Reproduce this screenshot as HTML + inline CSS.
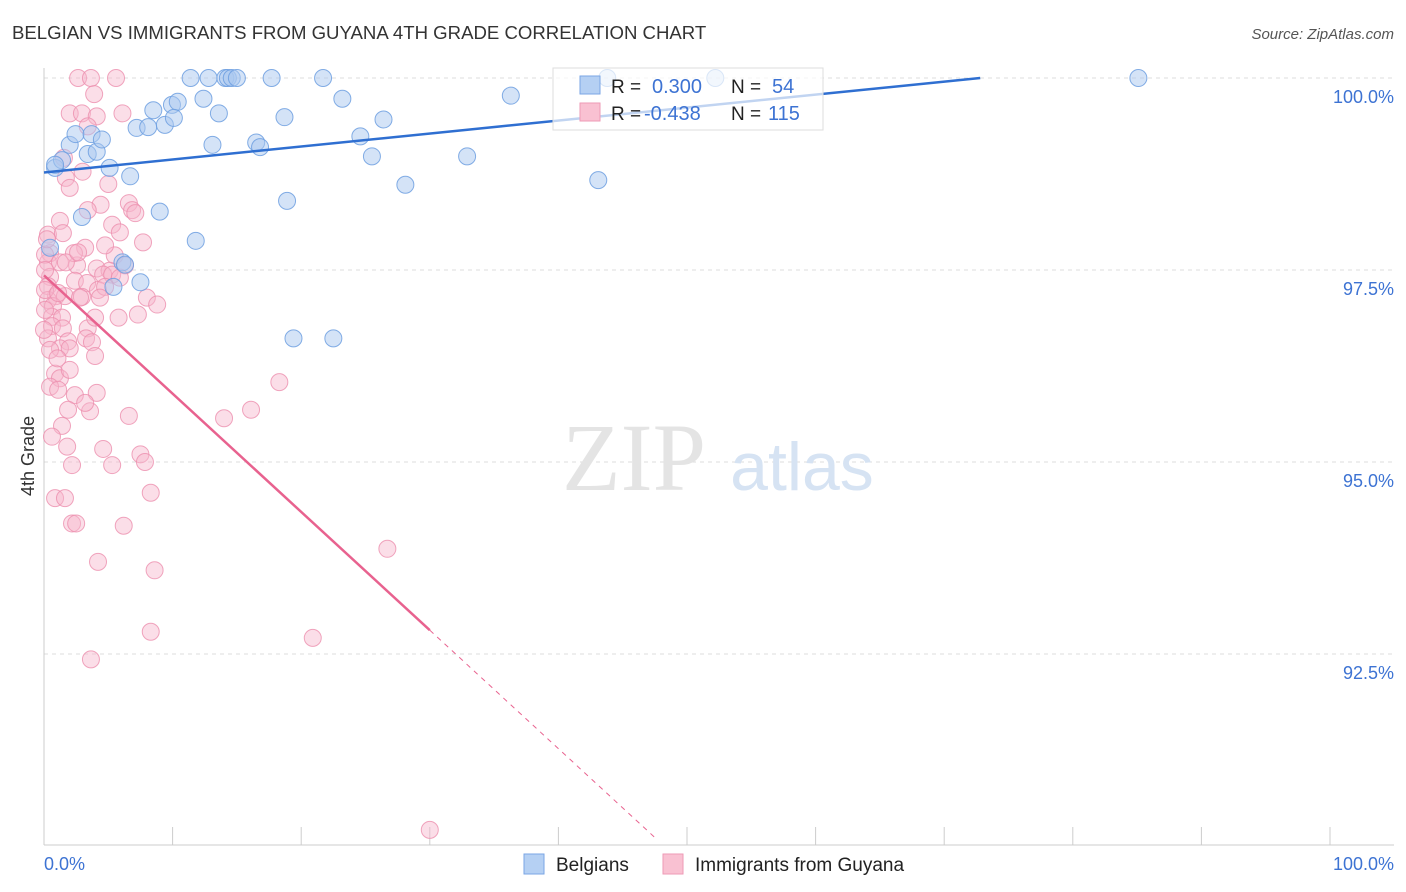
<!DOCTYPE html>
<html><head><meta charset="utf-8"><style>
body{margin:0;background:#fff;font-family:"Liberation Sans",sans-serif;}
svg{display:block}
</style></head><body>
<svg id="chart" width="1406" height="892">
<text x="12" y="39" font-size="18.6" fill="#333">BELGIAN VS IMMIGRANTS FROM GUYANA 4TH GRADE CORRELATION CHART</text>
<text x="1394" y="39" font-size="15" fill="#555" font-style="italic" text-anchor="end">Source: ZipAtlas.com</text>
<g id="grid"></g>
<text x="634" y="490" font-size="96" fill="#e4e4e4" font-family="Liberation Serif,serif" text-anchor="middle">ZIP</text>
<text x="802" y="490" font-size="68" fill="#d6e3f3" text-anchor="middle">atlas</text>
<g id="points"></g>
<g id="lines"></g>
<text transform="translate(34,456) rotate(-90)" font-size="18" fill="#333" text-anchor="middle">4th Grade</text>
<text x="44" y="870" font-size="18" fill="#3d73d3">0.0%</text>
<text x="1394" y="870" font-size="18" fill="#3d73d3" text-anchor="end">100.0%</text>
<g>
<rect x="553" y="68" width="270" height="62" fill="#fff" fill-opacity="0.7" stroke="#ddd"/>
<rect x="580" y="76" width="20" height="18" fill="#b5d0f3" stroke="#7aa6e4"/>
<rect x="580" y="103" width="20" height="18" fill="#f9c1d2" stroke="#ee9ab6"/>
<text x="611" y="93" font-size="19" fill="#222">R = </text><text x="652" y="93" font-size="20" fill="#3d73d3">0.300</text>
<text x="731" y="93" font-size="19" fill="#222">N = </text><text x="772" y="93" font-size="20" fill="#3d73d3">54</text>
<text x="611" y="120" font-size="19" fill="#222">R = </text><text x="644" y="120" font-size="20" fill="#3d73d3">-0.438</text>
<text x="731" y="120" font-size="19" fill="#222">N = </text><text x="768" y="120" font-size="20" fill="#3d73d3">115</text>
</g>
<g>
<rect x="524" y="854" width="20" height="20" fill="#b5d0f3" stroke="#7aa6e4"/>
<text x="556" y="871" font-size="19" fill="#222">Belgians</text>
<rect x="663" y="854" width="20" height="20" fill="#f9c1d2" stroke="#ee9ab6"/>
<text x="695" y="871" font-size="19" fill="#222">Immigrants from Guyana</text>
</g>
</svg>
<script>
const yTicks=[100,97.5,95,92.5];
const yTickLabels=["100.0%","97.5%","95.0%","92.5%"];
const blueX=[0.86,1.4,2,2.45,3.4,3.7,4.1,4.5,5.1,6.7,2.95,7.2,8.1,8.5,9.4,9.95,10.4,10.1,9,11.4,12.4,12.8,13.1,13.6,14.1,14.3,14.6,15,11.8,16.5,16.8,17.7,18.7,18.9,19.4,21.7,22.5,23.2,24.6,25.5,26.4,28.1,32.9,36.3,43.1,43.8,52.2,85.1,6.1,6.3,5.4,7.5,0.47,0.86];
const blueY=[98.83,98.93,99.13,99.27,99.01,99.27,99.04,99.2,98.83,98.72,98.19,99.35,99.36,99.58,99.39,99.65,99.69,99.48,98.26,100,99.73,100,99.13,99.54,100,100,100,100,97.88,99.16,99.1,100,99.49,98.4,96.61,100,96.61,99.73,99.24,98.98,99.46,98.61,98.98,99.77,98.67,100,100,100,97.6,97.57,97.28,97.34,97.79,98.87];
const pinkX=[2.65,3.65,5.6,3.9,2,2.95,4.1,6.1,3.4,1.55,3,1.7,2,5,4.4,6.6,6.85,3.4,5.3,1.24,0.31,1.47,3.2,7.7,0.47,5.5,0.31,2.57,4.1,6.3,5.1,0.47,2.4,3.35,4.6,5.3,0.31,0.93,1.63,2.95,4.2,4.75,8,8.8,0.31,0.7,0.62,1.4,5.8,7.3,0.62,1.47,3.4,0.31,1.87,3.27,3.73,1.24,2,3.97,0.86,1.24,0.47,1.1,4.1,2.4,1.87,3.58,6.6,14,16.1,18.3,1.4,1.8,4.6,7.5,2.18,5.3,7.85,0.86,1.63,8.3,2.18,2.5,6.2,4.2,8.6,26.7,8.3,20.9,3.65,30,2.33,4.35,0.08,0.08,0.08,0.08,0,0.47,1.24,2.8,5.9,3.97,1.05,2,3.2,0.62,1.7,2.65,5.9,4.75,7.1,1.1,0.23];
const pinkY=[100,100,100,99.79,99.54,99.54,99.5,99.54,99.37,98.96,98.78,98.7,98.57,98.62,98.35,98.37,98.28,98.28,98.09,98.14,97.96,97.98,97.79,97.86,97.72,97.69,97.6,97.56,97.52,97.56,97.49,97.41,97.36,97.33,97.44,97.44,97.29,97.16,97.16,97.15,97.24,97.28,97.14,97.05,97.11,97.03,96.89,96.88,96.88,96.92,96.77,96.74,96.74,96.61,96.57,96.61,96.56,96.48,96.48,96.38,96.15,96.09,95.98,95.94,95.9,95.87,95.68,95.66,95.6,95.57,95.68,96.04,95.47,95.2,95.17,95.1,94.96,94.96,95,94.53,94.53,94.6,94.2,94.2,94.17,93.7,93.59,93.87,92.79,92.71,92.43,90.21,97.72,97.14,97.7,97.5,97.24,96.98,96.72,96.46,97.6,97.14,97.4,96.88,96.35,96.2,95.77,95.33,97.6,97.73,97.99,97.82,98.24,97.2,97.9];
const blueLine=[0,98.77,72.8,100];
const pinkLine=[0,97.43,30,92.81,47.7,90.08];
const X0=44,X1=1330,YT=78,YB=845;
const sx=v=>X0+v/100*(X1-X0);
const sy=v=>YT+(100-v)*76.8;
const NS="http://www.w3.org/2000/svg";
function mk(tag,attrs,parent){const e=document.createElementNS(NS,tag);for(const k in attrs)e.setAttribute(k,attrs[k]);parent.appendChild(e);return e;}
const grid=document.getElementById('grid');
yTicks.forEach((t,i)=>{
 const g=mk('line',{x1:X0,x2:1394,y1:sy(t),y2:sy(t),stroke:'#ddd','stroke-dasharray':'4,4'},grid);
 
 
 const l=mk('text',{x:1394,y:sy(t)+25,'font-size':18,fill:'#3d73d3','text-anchor':'end'},grid);
 l.textContent=yTickLabels[i];
 
 
});
const ax=mk('line',{x1:X0,x2:X0,y1:68,y2:YB,stroke:'#ccc'},grid);


const bx=mk('line',{x1:X0,x2:1394,y1:YB,y2:YB,stroke:'#ccc'},grid);


for(let i=0;i<=10;i++){
 const t=mk('line',{x1:sx(i*10),x2:sx(i*10),y1:YB,y2:827,stroke:'#ccc'},grid);
 
 
}
const pts=document.getElementById('points');
pinkX.forEach((x,i)=>{
 if(pinkY[i]===undefined) return;
 const c=mk('circle',{cx:sx(x),cy:sy(pinkY[i]),r:8.5,fill:'#f7b6cb','fill-opacity':0.45,stroke:'#ec8fae','stroke-opacity':0.8},pts);
 
 
});
blueX.forEach((x,i)=>{
 const c=mk('circle',{cx:sx(x),cy:sy(blueY[i]),r:8.5,fill:'#a9c8f0','fill-opacity':0.5,stroke:'#6d9fe0','stroke-opacity':0.85},pts);
 
 
});
const ln=document.getElementById('lines');
const b=mk('line',{x1:sx(blueLine[0]),y1:sy(blueLine[1]),x2:sx(blueLine[2]),y2:sy(blueLine[3]),stroke:'#2f6fd1','stroke-width':2.5},ln);


const p=mk('line',{x1:sx(pinkLine[0]),y1:sy(pinkLine[1]),x2:sx(pinkLine[2]),y2:sy(pinkLine[3]),stroke:'#e8628f','stroke-width':2.5},ln);


const pd=mk('line',{x1:sx(pinkLine[2]),y1:sy(pinkLine[3]),x2:sx(pinkLine[4]),y2:sy(pinkLine[5]),stroke:'#e8628f','stroke-width':1,'stroke-dasharray':'5,5'},ln);


</script>
</body></html>
